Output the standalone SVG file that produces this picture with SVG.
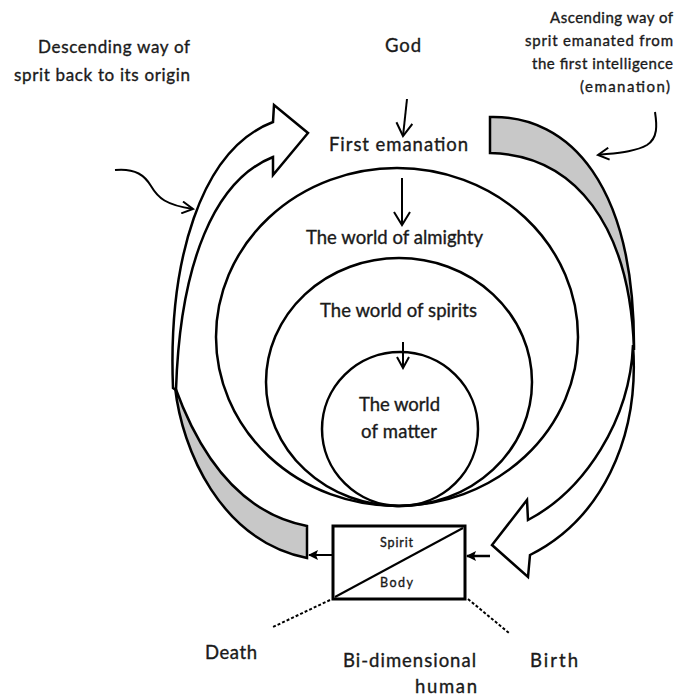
<svg xmlns="http://www.w3.org/2000/svg" width="682" height="698" viewBox="0 0 682 698">
<style>
  .t{font-family:Lato,"Liberation Sans",Arial,sans-serif;fill:#1a1a1a;stroke:#1a1a1a;stroke-width:0.35px;}
  .lg{font-size:18.5px}
  .md{font-size:17px}
  .sm{font-size:15px}
  .xs{font-size:12.5px}
  .ln{fill:none;stroke:#000;stroke-width:2.5}
  .ar{fill:none;stroke:#000;stroke-width:2}
  .white{fill:#fff;stroke:#000;stroke-width:2.5;stroke-linejoin:miter}
  .grey{fill:#c8c8c8;stroke:#000;stroke-width:2.5;stroke-linejoin:miter}
  .dash{fill:none;stroke:#000;stroke-width:2;stroke-dasharray:3 2}
</style>
<defs>
  <marker id="v" markerUnits="userSpaceOnUse" viewBox="0 0 16 18" markerWidth="16" markerHeight="18" refX="14" refY="9" orient="auto">
    <path d="M1,1 L14,9 L1,17" fill="none" stroke="#000" stroke-width="2"/>
  </marker>
  <marker id="vs" markerUnits="userSpaceOnUse" viewBox="0 0 14 14" markerWidth="14" markerHeight="14" refX="12" refY="7" orient="auto">
    <path d="M1,1 L12,7 L1,13" fill="none" stroke="#000" stroke-width="2"/>
  </marker>
  <marker id="f" markerUnits="userSpaceOnUse" viewBox="0 0 10 10" markerWidth="10" markerHeight="10" refX="9" refY="5" orient="auto">
    <path d="M0,0 L10,5 L0,10 L2,5 Z" fill="#000"/>
  </marker>
</defs>

<rect width="682" height="698" fill="#fff"/>

<g id="descending-label">
  <text class="t md" x="38" y="53" textLength="152" lengthAdjust="spacing">Descending way of</text>
  <text class="t md" x="14" y="81" textLength="176" lengthAdjust="spacing">sprit back to its origin</text>
</g>

<g id="ascending-label">
  <text class="t sm" x="550" y="23" textLength="123" lengthAdjust="spacing">Ascending way of</text>
  <text class="t sm" x="525" y="46" textLength="148" lengthAdjust="spacing">sprit emanated from</text>
  <text class="t sm" x="532" y="69" textLength="141" lengthAdjust="spacing">the first intelligence</text>
  <text class="t sm" x="580" y="92" textLength="90" lengthAdjust="spacing">(emanation)</text>
</g>

<g id="god">
  <text class="t lg" x="385" y="52" textLength="36" lengthAdjust="spacing">God</text>
</g>

<g id="first-emanation">
  <text class="t lg" x="329" y="151" textLength="139" lengthAdjust="spacing">First emanation</text>
</g>

<g id="world-almighty">
  <ellipse class="ln" cx="397" cy="337" rx="181" ry="169"/>
  <text class="t lg" x="306" y="244" textLength="177" lengthAdjust="spacing">The world of almighty</text>
</g>

<g id="world-spirits">
  <ellipse class="ln" cx="399" cy="382" rx="133" ry="124"/>
  <text class="t lg" x="320" y="317" textLength="157" lengthAdjust="spacing">The world of spirits</text>
</g>

<g id="world-matter">
  <ellipse class="ln" cx="400" cy="429" rx="78" ry="77"/>
  <text class="t lg" x="359" y="411" textLength="81" lengthAdjust="spacing">The world</text>
  <text class="t lg" x="361" y="438" textLength="76" lengthAdjust="spacing">of matter</text>
</g>

<g id="descending-arrow">
  <path class="grey" d="M307,526 C250,515 205,470 175,387 C182,450 220,540 307,558 Z"/>
  <path class="white" d="M173,388 C168,262 200,150 273,122 L274,105 L308,133 L273,175 L273,157 C215,180 180,262 176,390 Z"/>
</g>

<g id="ascending-arrow">
  <path class="grey" d="M490,117 C570,115 635,185 634,350 C630,225 575,155 490,153 Z"/>
  <path class="white" d="M633,345 C640,440 600,520 530,555 L528,577 L492,545 L527,500 L528,520 C585,490 630,420 633,345 Z"/>
</g>

<g id="human">
  <rect x="333" y="526" width="132" height="73" fill="#fff" stroke="#000" stroke-width="3"/>
  <line x1="335" y1="597" x2="463" y2="528" stroke="#000" stroke-width="2"/>
  <text class="t xs" x="380" y="547" textLength="33" lengthAdjust="spacing">Spirit</text>
  <text class="t xs" x="380" y="587" textLength="33" lengthAdjust="spacing">Body</text>
</g>

<g id="bottom-labels">
  <text class="t lg" x="205" y="659" textLength="52" lengthAdjust="spacing">Death</text>
  <text class="t lg" x="343" y="667" textLength="133" lengthAdjust="spacing">Bi-dimensional</text>
  <text class="t lg" x="415" y="693" textLength="62" lengthAdjust="spacing">human</text>
  <text class="t lg" x="530" y="667" textLength="48" lengthAdjust="spacing">Birth</text>
</g>

<g id="connectors">
  <path class="ar" d="M407,99 L403,136" marker-end="url(#v)"/>
  <path class="ar" d="M402,178 L402,225" marker-end="url(#v)"/>
  <path class="ar" d="M403,342 L403,368" marker-end="url(#vs)"/>
  <path class="ar" d="M115,170 C136,168 145,176 151,186 C158,198 166,205 193,209" marker-end="url(#vs)"/>
  <path class="ar" d="M655,112 C657,125 658,138 647,145 C635,152 615,153 598,155" marker-end="url(#vs)"/>
  <path d="M333,555 L309,555" stroke="#000" stroke-width="2" marker-end="url(#f)"/>
  <path d="M490,556 L467,556" stroke="#000" stroke-width="2.5" marker-end="url(#f)"/>
  <path class="dash" d="M330,600 L273,627"/>
  <path class="dash" d="M468,599 L509,633"/>
</g>
</svg>
